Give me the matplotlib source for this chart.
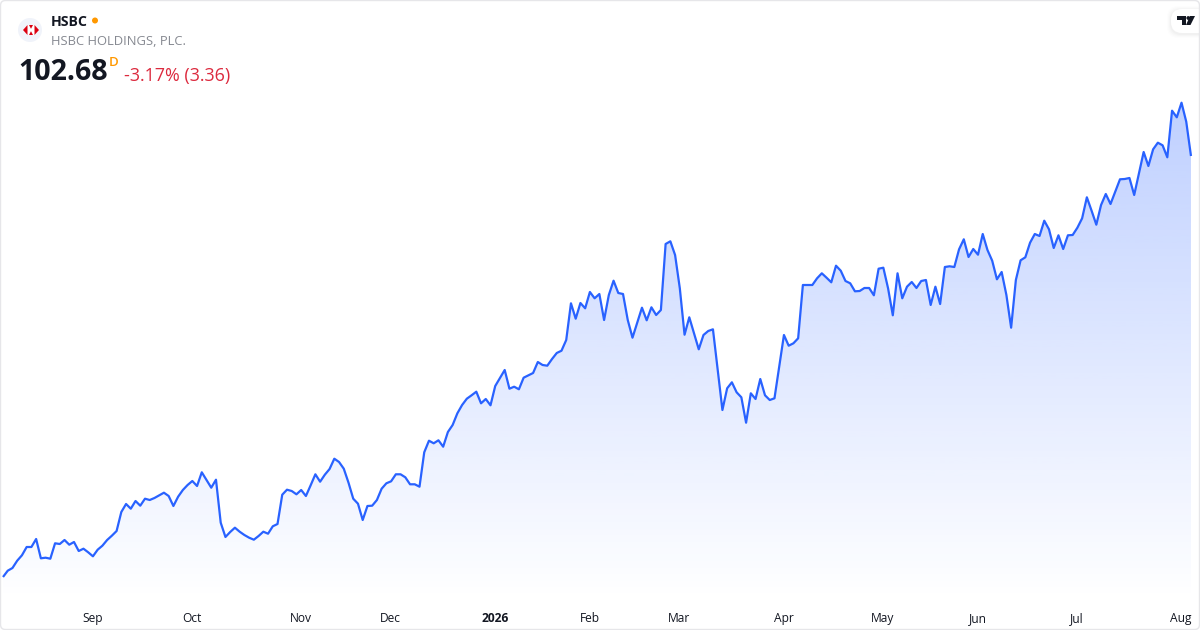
import numpy as np
import matplotlib
matplotlib.use("Agg")
import matplotlib.pyplot as plt
from matplotlib.colors import LinearSegmentedColormap
from matplotlib.patches import Circle, FancyBboxPatch, Polygon

plt.rcParams["font.family"] = ["Open Sans", "DejaVu Sans"]

SYMBOL = "HSBC"
NAME = "HSBC HOLDINGS, PLC."
LAST = "102.68"
INTERVAL = "D"
CHANGE = "-3.17% (3.36)"

prices_aug_oct = [60.58, 61.21, 61.48, 62.21, 62.75, 63.58, 63.58, 64.38, 62.45, 62.51, 62.41, 63.95, 63.88, 64.28, 63.81, 64.08,
    63.18, 63.41, 63.05, 62.65, 63.31, 63.71, 64.28, 64.71, 65.18, 67.08, 67.88, 67.41, 68.18, 67.71, 68.41, 68.28,
    68.48, 68.75, 69.01, 68.68, 67.68, 68.61, 69.28, 69.78, 70.18, 69.68, 71.05, 70.28, 69.51, 70.31, 66.01, 64.58,
    65.08, 65.51, 65.11, 64.78, 64.51, 64.31, 64.68, 65.11, 64.91, 65.65, 65.88, 68.81, 69.31, 69.18, 68.85]
prices_nov_jan = [69.28, 68.68, 69.75, 70.85, 70.11, 70.81, 71.38, 72.41, 72.08, 71.41, 70.01, 68.41, 67.91, 66.28, 67.68, 67.71,
    68.28, 69.41, 69.95, 70.15, 70.85, 70.85, 70.55, 69.85, 69.85, 69.61, 73.05, 74.21, 73.95, 74.25, 73.61, 75.08,
    75.78, 76.95, 77.78, 78.41, 78.75, 79.11, 77.95, 78.38, 77.75, 79.68, 80.48, 81.28, 79.41, 79.61, 79.35, 80.51,
    80.75, 80.98, 82.08, 81.78, 81.71, 82.38, 82.98, 83.21, 84.28]
prices_feb_apr = [87.95, 86.41, 87.98, 87.45, 89.08, 88.45, 88.88, 86.28, 88.78, 90.21, 88.98, 88.88, 86.28, 84.51, 86.01, 87.51,
    86.25, 87.55, 86.78, 87.28, 93.88, 94.15, 92.78, 89.45, 84.81, 86.55, 84.95, 83.35, 84.78, 85.18, 85.35, 81.28,
    77.28, 79.45, 80.05, 79.05, 78.55, 76.01, 78.95, 78.38, 80.38, 78.75, 78.28, 78.45, 81.61, 84.78, 83.71, 83.95,
    84.45, 89.78, 89.78, 89.78, 90.45]
prices_apr_jun = [90.95, 90.51, 90.05, 91.71, 91.21, 90.18, 89.95, 89.15, 89.18, 89.48, 89.48, 88.75, 91.41, 91.51, 89.45, 86.75,
    90.95, 88.45, 89.61, 90.08, 89.48, 90.18, 90.28, 87.78, 89.61, 87.88, 91.58, 91.65, 91.58, 93.35, 94.35, 92.58,
    93.38, 92.81, 94.88, 93.28, 92.21, 90.35, 91.08, 88.78, 85.51, 90.28]
prices_jun_aug = [92.25, 92.55, 94.01, 94.88, 94.68, 96.21, 95.35, 93.48, 94.75, 93.38, 94.75, 94.78, 95.51, 96.45, 98.55, 97.21,
    95.81, 97.78, 98.88, 97.88, 99.11, 100.35, 100.38, 100.48, 98.78, 100.95, 103.08, 101.68, 103.35, 104.01, 103.75,
    102.55, 107.21, 106.55, 108.01, 106.11, 102.68]
tick_labels = ["Sep", "Oct", "Nov", "Dec", "2026", "Feb", "Mar", "Apr", "May", "Jun", "Jul", "Aug"]
tick_bars = [19, 40, 63, 82, 104, 124, 143, 165, 186, 206, 227, 249]

prices = np.array(prices_aug_oct + prices_nov_jan + prices_feb_apr + prices_apr_jun + prices_jun_aug)
bars = np.arange(len(prices))

W, H = 1200, 630
fig = plt.figure(figsize=(W / 100, H / 100), dpi=100, facecolor="white")

ax = fig.add_axes([0, 0, 1, 1])
ax.set_axis_off()
baseline = 58.2

cmap = LinearSegmentedColormap.from_list("area", [(41/255, 98/255, 255/255, 0.30), (41/255, 98/255, 255/255, 0.0)])
grad = ax.imshow(np.linspace(0, 1, 256).reshape(-1, 1), cmap=cmap, aspect="auto", origin="upper",
                 extent=[bars[0], bars[-1], baseline, prices.max()], zorder=1)
ax.set_xlim(-3 / 4.733, (W - 3) / 4.733)
ax.set_ylim(55.28, 118.28)
poly = ax.fill_between(bars, prices, baseline, color="none")
grad.set_clip_path(poly.get_paths()[0], transform=ax.transData)
ax.plot(bars, prices, color="#2962FF", lw=1.6, zorder=3, solid_joinstyle="round", solid_capstyle="butt")

for b, lab in zip(tick_bars, tick_labels):
    bold = lab == "2026"
    ax.annotate(lab, (b, 0), xycoords=("data", "figure pixels"), xytext=(-0.4, 11.5), textcoords="offset pixels",
                ha="center", va="center", fontsize=8.64, color="#131722", fontweight="bold" if bold else "normal")

# overlay in pixel coordinates for header, logos and frame
ov = fig.add_axes([0, 0, 1, 1], facecolor="none")
ov.set_axis_off()
ov.set_xlim(0, W)
ov.set_ylim(H, 0)

ov.add_patch(FancyBboxPatch((0.5, 0.5), W - 1, H - 1, boxstyle="round,pad=0,rounding_size=5",
                            fc="none", ec="#E6E6E9", lw=1.0, zorder=20))

# HSBC logo
ov.add_patch(Circle((30, 30), 12, fc="#F0F3FA", ec="none", zorder=5))
ov.add_patch(Polygon([(23, 30), (27.5, 25), (34.5, 25), (39, 30), (34.5, 35), (27.5, 35)], fc="white", ec="none", zorder=6))
ov.add_patch(Polygon([(23, 30), (27.5, 25), (27.5, 35)], fc="#DB0011", ec="none", zorder=7))
ov.add_patch(Polygon([(39, 30), (34.5, 25), (34.5, 35)], fc="#DB0011", ec="none", zorder=7))
ov.add_patch(Polygon([(29, 25), (33, 25), (31, 28.8)], fc="#DB0011", ec="none", zorder=7))
ov.add_patch(Polygon([(29, 35), (33, 35), (31, 31.2)], fc="#DB0011", ec="none", zorder=7))

ov.text(51, 22, SYMBOL, fontsize=10.2, fontweight="bold", color="#131722", va="center", ha="left")
ov.add_patch(Circle((95, 20.5), 3, fc="#FF9800", ec="none", zorder=6))
ov.text(51, 41.5, NAME, fontsize=9.4, color="#868991", va="center", ha="left")
ov.text(18, 72, LAST, fontsize=20.6, fontweight="bold", color="#131722", va="center", ha="left")
ov.text(109, 62, INTERVAL, fontsize=9.5, fontweight="semibold", color="#FF9800", va="center", ha="left")
ov.text(124, 76, CHANGE, fontsize=12.9, color="#DC2A3E", va="center", ha="left")

# TradingView badge
for pad, a in [(4, 0.008), (3, 0.012), (2, 0.016), (1, 0.02)]:
    ov.add_patch(FancyBboxPatch((1171 - pad, 9 - pad + 1), 40 + pad, 24 + 2 * pad,
                                boxstyle="round,pad=0,rounding_size=11", fc="black", ec="none", alpha=a, zorder=8))
ov.add_patch(FancyBboxPatch((1171, 9), 40, 24, boxstyle="round,pad=0,rounding_size=11", fc="white", ec="none", zorder=9))
ov.set_xlim(0, W)
ov.set_ylim(H, 0)
ov.add_patch(Polygon([(1177, 16), (1186, 16), (1186, 25), (1181.5, 25), (1181.5, 20), (1177, 20)], fc="#131722", ec="none", zorder=10))
ov.add_patch(Circle((1188.3, 18), 1.9, fc="#131722", ec="none", zorder=10))
ov.add_patch(Polygon([(1190, 16), (1195, 16), (1190.5, 25), (1186, 25)], fc="#131722", ec="none", zorder=10))

fig.savefig("out.png", dpi=100, facecolor="white")
